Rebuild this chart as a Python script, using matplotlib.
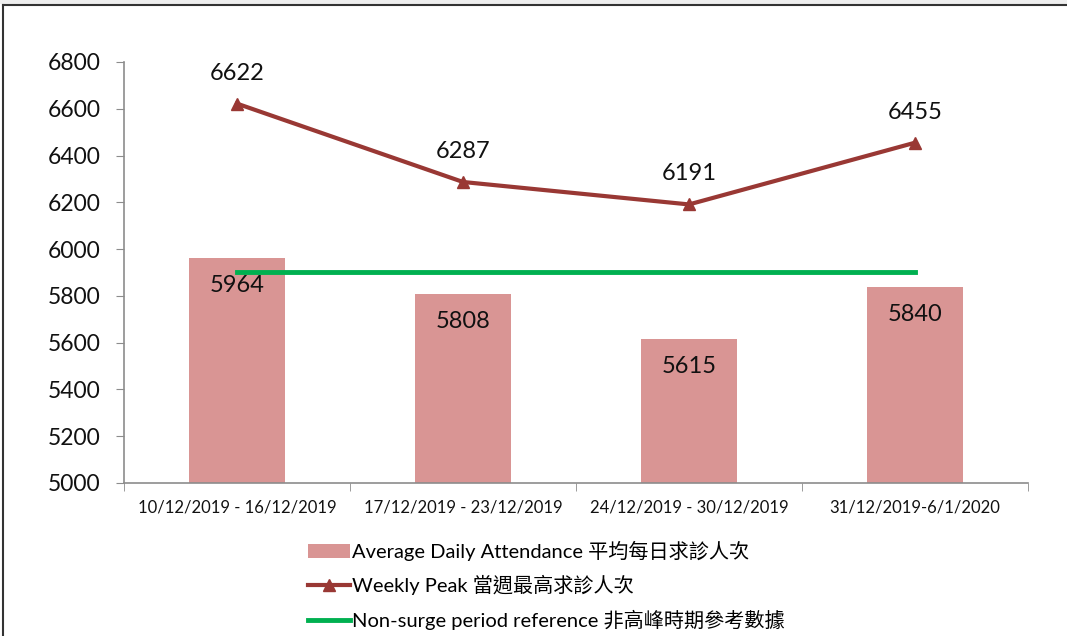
import numpy as np
import matplotlib.pyplot as plt
from matplotlib.patches import Rectangle
from matplotlib.lines import Line2D

plt.rcParams['font.family'] = ['Lato', 'Noto Sans CJK TC', 'DejaVu Sans']

weeks = ['10/12/2019 - 16/12/2019', '17/12/2019 - 23/12/2019',
         '24/12/2019 - 30/12/2019', '31/12/2019-6/1/2020']
avg_daily = [5964, 5808, 5615, 5840]
weekly_peak = [6622, 6287, 6191, 6455]
reference = [5900, 5900, 5900, 5900]

bar_color = '#D99594'
peak_color = '#993834'
ref_color = '#00B050'
axis_color = '#8C8C8C'

fig = plt.figure(figsize=(10.67, 6.36), dpi=100)
# outer frame like the screenshot
fig.add_artist(Line2D([0.003, 0.003], [0, 0.992], transform=fig.transFigure,
                      color='#333333', lw=1.5))
fig.add_artist(Line2D([0.003, 1], [0.992, 0.992], transform=fig.transFigure,
                      color='#333333', lw=1.5))
fig.add_artist(Rectangle((0, 0.994), 1, 0.006, transform=fig.transFigure,
                         facecolor='#EEEEEE', edgecolor='none'))

ax = fig.add_axes([124 / 1067, 1 - 483 / 636, 904 / 1067, 421 / 636])
x = np.arange(len(weeks))

bar_h = ax.bar(x, avg_daily, width=0.425, color=bar_color, zorder=2)
ref_h, = ax.plot(x, reference, color=ref_color, lw=3.5, zorder=3)
peak_h, = ax.plot(x, weekly_peak, color=peak_color, lw=3, marker='^', ms=8,
                  zorder=4)

for xi, v in zip(x, avg_daily):
    ax.annotate(str(v), (xi, v), xytext=(0, -20), textcoords='offset points',
                ha='center', va='center', fontsize=17, color='#111111', zorder=5)
for xi, v in zip(x, weekly_peak):
    ax.annotate(str(v), (xi, v), xytext=(0, 22), textcoords='offset points',
                ha='center', va='center', fontsize=17, color='#111111', zorder=5)

ax.set_xlim(-0.5, len(weeks) - 0.5)
ax.set_ylim(5000, 6800)
ax.set_yticks(np.arange(5000, 6801, 200))
ax.tick_params(axis='y', labelsize=16.5, length=6, color=axis_color, pad=11,
               labelcolor='#111111')
ax.set_xticks(x)
ax.set_xticklabels(weeks, fontsize=12, color='#111111')
ax.tick_params(axis='x', length=0, pad=12)
ax.set_xticks(np.arange(-0.5, len(weeks)), minor=True)
ax.tick_params(axis='x', which='minor', length=6, color=axis_color)

for s in ['top', 'right']:
    ax.spines[s].set_visible(False)
for s in ['left', 'bottom']:
    ax.spines[s].set_color(axis_color)
    ax.spines[s].set_linewidth(1.2)

fig.legend([bar_h, peak_h, ref_h],
           ['Average Daily Attendance 平均每日求診人次',
            'Weekly Peak 當週最高求診人次',
            'Non-surge period reference 非高峰時期參考數據'],
           loc='upper left', bbox_to_anchor=(300 / 1067, 1 - 533 / 636),
           frameon=False, fontsize=14.5, handlelength=2.1, handletextpad=0.1,
           labelspacing=0.7, borderaxespad=0)

fig.savefig('out.png', dpi=100)
